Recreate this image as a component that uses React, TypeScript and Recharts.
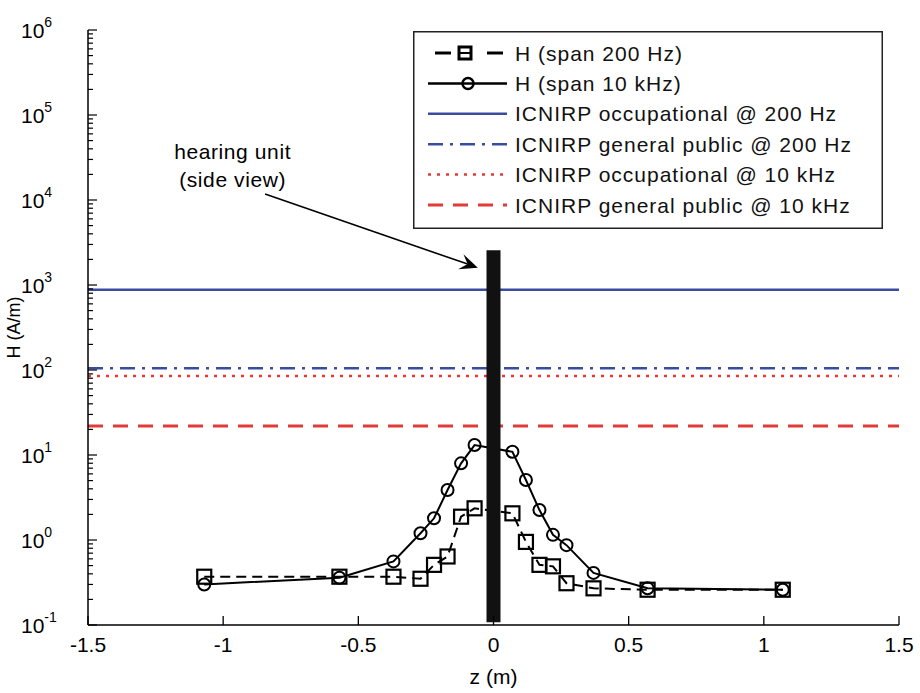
import React from 'react';
import { ComposedChart, Line, XAxis, YAxis, Legend, ReferenceDot, ReferenceLine } from 'recharts';

const FONT = '"Liberation Sans", Arial, Helvetica, sans-serif';

// Measurement positions along z (m)
const zPositions = [-1.07, -0.57, -0.37, -0.27, -0.22, -0.17, -0.12, -0.07, 0.07, 0.12, 0.17, 0.22, 0.27, 0.37, 0.57, 1.07];
// H (A/m), span 200 Hz
const hSpan200Hz = [0.37, 0.37, 0.37, 0.35, 0.51, 0.64, 1.88, 2.36, 2.06, 0.95, 0.51, 0.49, 0.31, 0.27, 0.26, 0.26];
// H (A/m), span 10 kHz
const hSpan10kHz = [0.30, 0.36, 0.56, 1.20, 1.80, 3.87, 7.98, 13.1, 10.9, 5.08, 2.25, 1.15, 0.87, 0.41, 0.27, 0.26];

// ICNIRP reference levels (A/m), drawn across the full z range
const limitZ = [-1.5, 1.5];
const occupational200Hz = 880;
const generalPublic200Hz = 105;
const occupational10kHz = 85;
const generalPublic10kHz = 22;

// hearing unit (side view) drawn as a thick bar at z = 0
const unitZ = [0, 0];
const unitH = [0.108, 2570];

// annotation
const annotationLines = ['hearing unit', '(side view)'];
const annotationAnchor = { z: -0.965, h: 25100 };
const arrowFrom = { z: -0.845, h: 11780 };
const arrowTo = { z: -0.058, h: 1600 };

const xTicks = [-1.5, -1, -0.5, 0, 0.5, 1, 1.5];
const xTickLabels = ['-1.5', '-1', '-0.5', '0', '0.5', '1', '1.5'];
const yDecades = [-1, 0, 1, 2, 3, 4, 5, 6];
const seriesNames = [
  'H (span 200 Hz)',
  'H (span 10 kHz)',
  'ICNIRP occupational @ 200 Hz',
  'ICNIRP general public @ 200 Hz',
  'ICNIRP occupational @ 10 kHz',
  'ICNIRP general public @ 10 kHz',
];

const BLUE = '#3a4ca0';
const RED = '#e23a36';

const yTicks: number[] = [];
yDecades.forEach((n) => {
  if (n === 6) {
    yTicks.push(1e6);
    return;
  }
  for (let m = 1; m <= 9; m++) yTicks.push(Number((m * Math.pow(10, n)).toPrecision(6)));
});

const measured = zPositions.map((z, i) => ({ z, h200: hSpan200Hz[i], h10k: hSpan10kHz[i] }));
const limitData = (v: number) => limitZ.map((z) => ({ z, h: v }));
const unitData = unitZ.map((z, i) => ({ z, h: unitH[i] }));

const STYLES: Record<string, any> = {
  [seriesNames[0]]: { color: '#000', dash: '10 6', width: 2, marker: 'square' },
  [seriesNames[1]]: { color: '#000', dash: undefined, width: 2, marker: 'circle' },
  [seriesNames[2]]: { color: BLUE, dash: undefined, width: 2.5 },
  [seriesNames[3]]: { color: BLUE, dash: '15 7 3 7', width: 2.5 },
  [seriesNames[4]]: { color: RED, dash: '3 6', width: 2.5 },
  [seriesNames[5]]: { color: RED, dash: '15 10', width: 3 },
};

const SquareDot = (props: any) => {
  const { cx, cy, index } = props;
  if (cx == null || cy == null) return <g key={`s${index}`} />;
  return <rect key={`s${index}`} x={cx - 7} y={cy - 7} width={14} height={14} fill="none" stroke="#000" strokeWidth={2.2} />;
};
const CircleDot = (props: any) => {
  const { cx, cy, index } = props;
  if (cx == null || cy == null) return <g key={`c${index}`} />;
  return <circle key={`c${index}`} cx={cx} cy={cy} r={6} fill="none" stroke="#000" strokeWidth={2} />;
};

const XTick = (props: any) => {
  const { x, y, payload } = props;
  const i = xTicks.indexOf(payload.value);
  return (
    <g>
      <line x1={x} y1={y} x2={x} y2={y - 9} stroke="#000" strokeWidth={1.3} />
      <text x={x} y={y + 27} textAnchor="middle" fontSize={21} fontFamily={FONT} fill="#000">
        {i >= 0 ? xTickLabels[i] : String(payload.value)}
      </text>
    </g>
  );
};

const YTick = (props: any) => {
  const { x, y, payload } = props;
  const lg = Math.log10(payload.value);
  const exp = Math.round(lg);
  const major = Math.abs(lg - exp) < 1e-6;
  return (
    <g>
      <line x1={x} y1={y} x2={x + (major ? 9 : 5)} y2={y} stroke="#000" strokeWidth={1.2} />
      {major && (
        <text x={x - 67} y={y + 8} textAnchor="start" fontSize={21} fontFamily={FONT} fill="#000">
          10
          <tspan dy={-11} fontSize={14}>{String(exp)}</tspan>
        </text>
      )}
    </g>
  );
};

const ArrowShape = (p: any) => {
  const { x1, y1, x2, y2 } = p;
  if ([x1, y1, x2, y2].some((v) => v == null || isNaN(v))) return <g />;
  const ang = Math.atan2(y2 - y1, x2 - x1);
  const L = 18;
  const W = 8;
  const bx = x2 - L * Math.cos(ang);
  const by = y2 - L * Math.sin(ang);
  const mx = x2 - L * 0.6 * Math.cos(ang);
  const my = y2 - L * 0.6 * Math.sin(ang);
  const px = -Math.sin(ang) * W;
  const py = Math.cos(ang) * W;
  return (
    <g>
      <line x1={x1} y1={y1} x2={mx} y2={my} stroke="#000" strokeWidth={1.6} />
      <polygon points={`${x2},${y2} ${bx + px},${by + py} ${mx},${my} ${bx - px},${by - py}`} fill="#000" />
    </g>
  );
};

const AnnotationLabel = (p: any) => {
  const vb = p.viewBox || {};
  const cx = vb.x + (vb.width || 0) / 2;
  const cy = vb.y + (vb.height || 0) / 2;
  return (
    <g>
      {annotationLines.map((t, i) => (
        <text key={t} x={cx} y={cy + (i - 0.5) * 28 + 7} textAnchor="middle" fontSize={21} letterSpacing={0.6} fontFamily={FONT} fill="#000">
          {t}
        </text>
      ))}
    </g>
  );
};

const LegendContent = (props: any) => {
  const payload = (props.payload || []).filter((e: any) => seriesNames.includes(e.value));
  const W = 470;
  const H = 198;
  return (
    <svg width={W} height={H} style={{ display: 'block' }}>
      <rect x={0.75} y={0.75} width={W - 1.5} height={H - 1.5} fill="#fff" stroke="#222" strokeWidth={1.5} />
      {payload.map((e: any, i: number) => {
        const st = STYLES[e.value];
        const y = 22 + i * 30.4;
        return (
          <g key={e.value}>
            {st.marker === 'square' ? (
              <g>
                <line x1={22} y1={y} x2={38} y2={y} stroke="#000" strokeWidth={3} />
                <line x1={74} y1={y} x2={90} y2={y} stroke="#000" strokeWidth={3} />
                <rect x={46} y={y - 6} width={12} height={12} fill="none" stroke="#000" strokeWidth={3} />
                <line x1={46} y1={y} x2={58} y2={y} stroke="#000" strokeWidth={2} />
              </g>
            ) : st.marker === 'circle' ? (
              <g>
                <line x1={15} y1={y} x2={94} y2={y} stroke="#000" strokeWidth={2.5} />
                <circle cx={55} cy={y} r={5.5} fill="none" stroke="#000" strokeWidth={2.5} />
              </g>
            ) : (
              <line x1={15} y1={y} x2={94} y2={y} stroke={st.color} strokeWidth={st.width} strokeDasharray={st.dash} />
            )}
            <text x={102} y={y + 7.5} fontSize={21} letterSpacing={1} fontFamily={FONT} fill="#111">
              {e.value}
            </text>
          </g>
        );
      })}
    </svg>
  );
};

export default function App() {
  return (
    <div style={{ position: 'absolute', left: 0, top: 0, width: 920, height: 693, background: '#fff' }}>
      <ComposedChart width={920} height={693} margin={{ top: 30, right: 21, bottom: 0, left: 0 }}>
        <XAxis
          type="number"
          dataKey="z"
          domain={[-1.5, 1.5]}
          ticks={xTicks}
          interval={0}
          allowDataOverflow
          height={68}
          tickSize={0}
          tickMargin={0}
          tickLine={false}
          tick={<XTick />}
          axisLine={{ stroke: '#000', strokeWidth: 1.5 }}
          label={{
            content: (p: any) => {
              const vb = p.viewBox || {};
              return (
                <text x={vb.x + vb.width / 2} y={vb.y + 59} textAnchor="middle" fontSize={21} fontFamily={FONT} fill="#000">
                  z (m)
                </text>
              );
            },
          }}
        />
        <YAxis
          type="number"
          scale="log"
          domain={[0.1, 1e6]}
          ticks={yTicks}
          interval={0}
          allowDataOverflow
          width={88}
          tickSize={0}
          tickMargin={0}
          tickLine={false}
          tick={<YTick />}
          axisLine={{ stroke: '#000', strokeWidth: 1.5 }}
          label={{
            content: (p: any) => {
              const vb = p.viewBox || {};
              const cx = 14;
              const cy = vb.y + vb.height / 2;
              return (
                <text x={cx} y={cy} transform={`rotate(-90, ${cx}, ${cy})`} textAnchor="middle" dominantBaseline="central" fontSize={18} fontFamily={FONT} fill="#000">
                  H (A/m)
                </text>
              );
            },
          }}
        />
        <Legend
          layout="vertical"
          align="center"
          verticalAlign="middle"
          itemSorter={(e: any) => seriesNames.indexOf(e.value)}
          wrapperStyle={{ position: 'absolute', left: 413, top: 31, width: 470, height: 198 }}
          content={<LegendContent />}
        />
        <Line data={limitData(occupational200Hz)} dataKey="h" name={seriesNames[2]} stroke={BLUE} strokeWidth={2.5} dot={false} isAnimationActive={false} />
        <Line data={limitData(generalPublic200Hz)} dataKey="h" name={seriesNames[3]} stroke={BLUE} strokeWidth={2.5} strokeDasharray="15 7 3 7" dot={false} isAnimationActive={false} />
        <Line data={limitData(occupational10kHz)} dataKey="h" name={seriesNames[4]} stroke={RED} strokeWidth={2.5} strokeDasharray="3 6" dot={false} isAnimationActive={false} />
        <Line data={limitData(generalPublic10kHz)} dataKey="h" name={seriesNames[5]} stroke={RED} strokeWidth={3} strokeDasharray="15 10" dot={false} isAnimationActive={false} />
        <Line data={measured} dataKey="h200" name={seriesNames[0]} stroke="#000" strokeWidth={2} strokeDasharray="10 6" dot={<SquareDot />} isAnimationActive={false} />
        <Line data={measured} dataKey="h10k" name={seriesNames[1]} stroke="#000" strokeWidth={2} dot={<CircleDot />} isAnimationActive={false} />
        <Line data={unitData} dataKey="h" name="hearing unit" legendType="none" stroke="#111" strokeWidth={14} strokeLinecap="butt" dot={false} isAnimationActive={false} />
        <ReferenceLine segment={[{ x: arrowFrom.z, y: arrowFrom.h }, { x: arrowTo.z, y: arrowTo.h }]} ifOverflow="visible" shape={<ArrowShape />} />
        <ReferenceDot x={annotationAnchor.z} y={annotationAnchor.h} r={0} fill="none" stroke="none" ifOverflow="visible" label={<AnnotationLabel />} />
      </ComposedChart>
    </div>
  );
}
